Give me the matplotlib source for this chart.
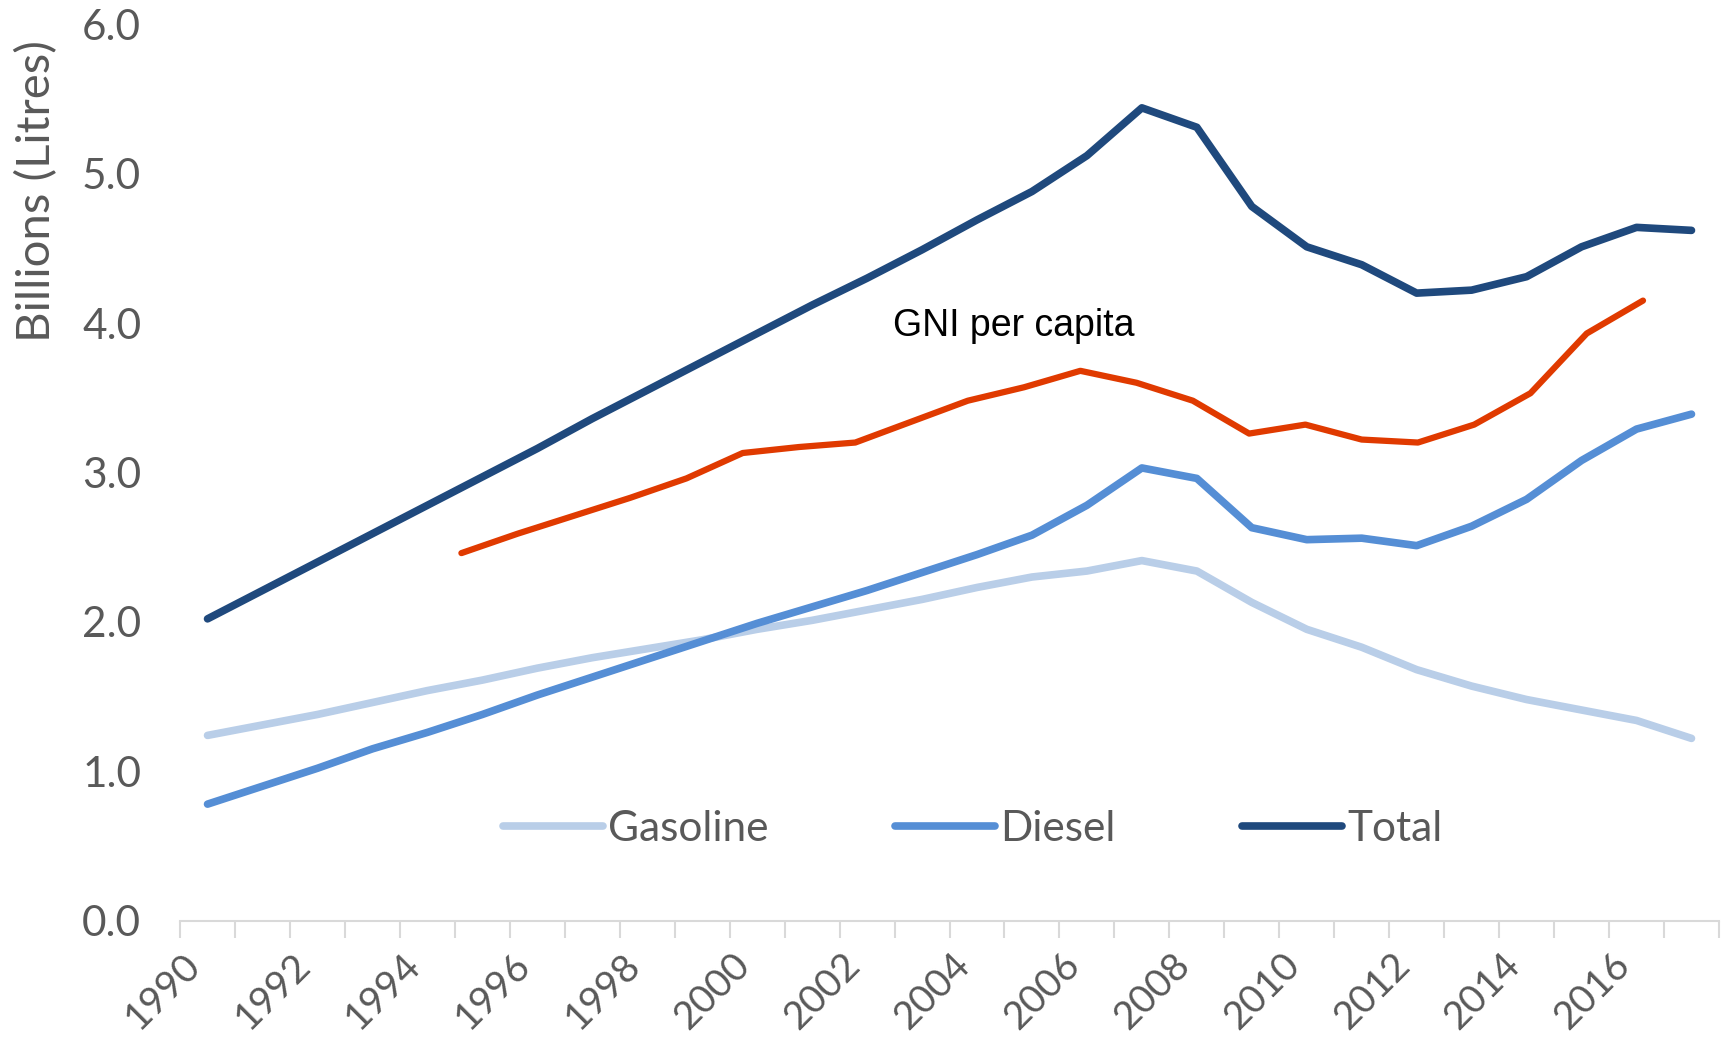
import numpy as np
import matplotlib.pyplot as plt

years = list(range(1990, 2018))
gasoline = [1.24, 1.31, 1.38, 1.46, 1.54, 1.61, 1.69, 1.76, 1.82, 1.88,
            1.95, 2.01, 2.08, 2.15, 2.23, 2.30, 2.34, 2.41, 2.34, 2.13,
            1.95, 1.83, 1.68, 1.57, 1.48, 1.41, 1.34, 1.22]
diesel = [0.78, 0.90, 1.02, 1.15, 1.26, 1.38, 1.51, 1.63, 1.75, 1.87,
          1.99, 2.10, 2.21, 2.33, 2.45, 2.58, 2.78, 3.03, 2.96, 2.63,
          2.55, 2.56, 2.51, 2.64, 2.82, 3.08, 3.29, 3.39]
total = [2.02, 2.21, 2.40, 2.59, 2.78, 2.97, 3.16, 3.36, 3.55, 3.74,
         3.93, 4.12, 4.30, 4.49, 4.69, 4.88, 5.12, 5.44, 5.31, 4.78,
         4.51, 4.39, 4.20, 4.22, 4.31, 4.51, 4.64, 4.62]

gni_years = list(range(1995, 2017))
gni = [2.46, 2.59, 2.71, 2.83, 2.96, 3.13, 3.17, 3.20, 3.34, 3.48, 3.57,
       3.68, 3.60, 3.48, 3.26, 3.32, 3.22, 3.20, 3.32, 3.53, 3.93, 4.15]

tick_years = years[::2]
grey = '#595959'

plt.rcParams['font.family'] = ['Lato', 'DejaVu Sans']

fig = plt.figure(figsize=(17.33, 10.51), dpi=100)
ax = fig.add_axes([0.1039, 0.124, 0.888, 0.853])

ax.plot(years, gasoline, color='#B9CEE8', lw=5.5, solid_capstyle='round', label='Gasoline')
ax.plot(years, diesel, color='#558ED5', lw=5.5, solid_capstyle='round', label='Diesel')
ax.plot(years, total, color='#1F497D', lw=5.5, solid_capstyle='round', label='Total')

ax.set_xlim(1989.5, 2017.5)
ax.set_ylim(0, 6)
ax.set_yticks(np.arange(0, 6.1, 1.0))
ax.set_yticklabels(['%.1f' % v for v in np.arange(0, 6.1, 1.0)])
ax.set_xticks(tick_years)
ax.set_xticklabels([str(y) for y in tick_years], rotation=45, ha='right', va='top')
ax.set_xticks(np.arange(1989.5, 2018, 1.0), minor=True)
ax.tick_params(axis='x', which='major', length=0, pad=19, labelsize=28, labelcolor=grey)
ax.tick_params(axis='x', which='minor', length=12, width=1.5, color='#D9D9D9')
ax.tick_params(axis='y', length=0, pad=28, labelsize=30.5, labelcolor=grey)

for s in ['top', 'right', 'left']:
    ax.spines[s].set_visible(False)
ax.spines['bottom'].set_color('#D9D9D9')
ax.spines['bottom'].set_linewidth(1.5)

leg = ax.legend(loc='center', bbox_to_anchor=(0.515, 0.102), ncol=3, frameon=False,
                fontsize=30.5, handlelength=2.35, handletextpad=0.12, columnspacing=3.0)
for t in leg.get_texts():
    t.set_color(grey)

# GNI overlay drawn on its own x scale
ax2 = ax.twiny()
ax2.plot(gni_years, gni, color='#E03A00', lw=4.5, solid_capstyle='round')
ax2.set_xlim(1990.0, 2017.35)
ax2.set_ylim(0, 6)
ax2.axis('off')

ax.text(2004.66, 3.98, 'GNI per capita', family='Liberation Sans', fontsize=27,
        color='black', ha='center', va='center')

fig.text(0.021, 0.818, 'Billions (Litres)', rotation=90, ha='center', va='center',
         fontsize=34, color=grey)

fig.savefig('out.png', dpi=100)
